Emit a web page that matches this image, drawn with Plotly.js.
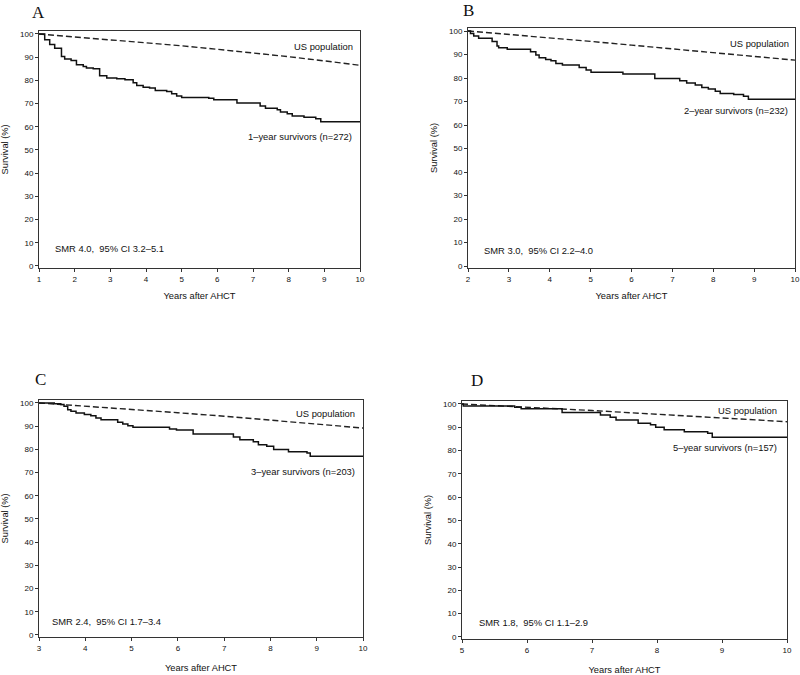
<!DOCTYPE html>
<html>
<head>
<meta charset="utf-8">
<script src="https://cdn.plot.ly/plotly-3.0.1.min.js"></script>
<style>html,body{margin:0;padding:0;background:#fff;}#chart{width:800px;height:675px;}</style>
</head>
<body>
<div id="chart"></div>
<script>
// Panel A: 1-year survivors
const kmTimeA = [1, 1.16, 1.3, 1.44, 1.63, 1.72, 1.9, 2.05, 2.24, 2.33, 2.52, 2.7, 2.9, 3.18, 3.41, 3.64, 3.74, 3.92, 4.1, 4.26, 4.58, 4.72, 4.86, 5.0, 5.76, 5.9, 6.55, 7.2, 7.35, 7.68, 7.77, 7.96, 8.1, 8.43, 8.76, 8.9, 10];
const kmSurvA = [100, 97.5, 95.5, 93.8, 90.3, 89.2, 88.6, 86.7, 86, 85.3, 85, 82, 81, 80.7, 80.3, 79, 77.8, 77, 76.7, 75.6, 75.2, 74.2, 73.3, 72.6, 72.3, 71.6, 70.2, 69, 68, 67.3, 66.4, 65.6, 64.7, 64.1, 63.5, 62.2, 62.2];
const usTimeA = [1, 2, 3, 4, 5, 6, 7, 8, 9, 10];
const usSurvA = [100, 98.8, 97.6, 96.3, 94.9, 93.4, 91.9, 90.2, 88.4, 86.5];

// Panel B: 2-year survivors
const kmTimeB = [2, 2.06, 2.14, 2.26, 2.59, 2.71, 2.75, 2.96, 3.53, 3.66, 3.74, 3.9, 4.03, 4.15, 4.31, 4.72, 4.89, 5.01, 5.79, 6.57, 7.18, 7.35, 7.56, 7.72, 7.88, 8.05, 8.17, 8.5, 8.74, 8.86, 10];
const kmSurvB = [100, 99, 97.9, 96.9, 95.5, 93.6, 92.9, 92.2, 91.2, 89.8, 88.6, 87.9, 87.4, 86.2, 85.5, 84.5, 83.4, 82.5, 81.7, 79.8, 78.8, 77.9, 77, 76, 75.3, 74.4, 73.4, 73, 72.3, 71, 71];
const usTimeB = [2, 3, 4, 5, 6, 7, 8, 9, 10];
const usSurvB = [100, 98.6, 97.1, 95.6, 94.0, 92.4, 90.8, 89.2, 87.6];

// Panel C: 3-year survivors
const kmTimeC = [3, 3.33, 3.47, 3.54, 3.62, 3.69, 3.8, 3.98, 4.12, 4.23, 4.34, 4.7, 4.81, 4.92, 5.03, 5.82, 5.97, 6.33, 7.2, 7.34, 7.63, 7.74, 7.92, 8.07, 8.39, 8.79, 8.86, 10];
const kmSurvC = [100, 99.7, 99.3, 98.6, 97.1, 96.4, 95.7, 95, 94.5, 93.5, 92.8, 91.7, 90.9, 90.2, 89.5, 88.8, 88.4, 86.6, 85.3, 84.2, 83.3, 82, 81.3, 79.9, 79, 78.4, 77, 77];
const usTimeC = [3, 4, 5, 6, 7, 8, 9, 10];
const usSurvC = [100, 98.7, 97.3, 95.8, 94.3, 92.7, 91.0, 89.2];

// Panel D: 5-year survivors
const kmTimeD = [5, 5.02, 5.81, 5.91, 6.54, 7.13, 7.28, 7.37, 7.71, 7.9, 7.98, 8.11, 8.42, 8.78, 8.85, 10];
const kmSurvD = [100, 99.1, 98.6, 98, 96.4, 95.3, 94.3, 93.1, 91.7, 91.1, 90, 88.9, 88.1, 87.4, 85.7, 85.7];
const usTimeD = [5, 6, 7, 8, 9, 10];
const usSurvD = [100, 98.7, 97.2, 95.6, 94.0, 92.4];

const panelLetters = ['A', 'B', 'C', 'D'];
const cohortLabels = ['1\u2013year survivors (n=272)', '2\u2013year survivors (n=232)', '3\u2013year survivors (n=203)', '5\u2013year survivors (n=157)'];
const smrLabels = ['SMR 4.0,\u00a0\u00a095% CI 3.2\u20135.1', 'SMR 3.0,\u00a0\u00a095% CI 2.2\u20134.0', 'SMR 2.4,\u00a0\u00a095% CI 1.7\u20133.4', 'SMR 1.8,\u00a0\u00a095% CI 1.1\u20132.9'];
const popLabel = 'US population';
const xStarts = [1, 2, 3, 5];

const kmT = [kmTimeA, kmTimeB, kmTimeC, kmTimeD];
const kmS = [kmSurvA, kmSurvB, kmSurvC, kmSurvD];
const usT = [usTimeA, usTimeB, usTimeC, usTimeD];
const usS = [usSurvA, usSurvB, usSurvC, usSurvD];

const W = 800, H = 675;
// pixel boxes [left, right, top, bottom]
const boxes = [[39, 360, 30.5, 268.3], [468, 795, 27.5, 268.4], [39, 363, 399.5, 637.3], [462, 787, 400.5, 639.3]];
const xTitleStandoff = [9, 9, 12, 12];
const letterPos = [[38, 12], [468, 10], [40, 379], [477, 380]];
const popPos = [[355, 47], [791, 43], [357, 413], [779, 410]];
const cohPos = [[354, 136], [790, 111], [357, 471], [779, 447]];
const smrPos = [[53, 249], [482, 250], [50, 621], [477, 622]];

const font = 'Liberation Sans, Arial, Helvetica, sans-serif';
const traces = [];
const layout = {
  width: W, height: H,
  margin: {l: 0, r: 0, t: 0, b: 0},
  paper_bgcolor: '#fff', plot_bgcolor: '#fff',
  showlegend: false,
  font: {family: font, color: '#111', size: 9},
  annotations: []
};

for (let i = 0; i < 4; i++) {
  const sfx = i === 0 ? '' : String(i + 1);
  const xa = 'x' + sfx, ya = 'y' + sfx;
  traces.push({x: usT[i], y: usS[i], xaxis: xa, yaxis: ya, mode: 'lines', line: {color: '#222', width: 1.4, dash: '6px,3px'}, hoverinfo: 'skip'});
  traces.push({x: kmT[i], y: kmS[i], xaxis: xa, yaxis: ya, mode: 'lines', line: {color: '#111', width: 1.5, shape: 'hv'}, hoverinfo: 'skip'});
  const b = boxes[i];
  layout['xaxis' + sfx] = {
    domain: [b[0] / W, b[1] / W], anchor: ya, range: [xStarts[i], 10],
    tick0: xStarts[i], dtick: 1, ticks: 'outside', ticklen: 3, tickwidth: 1, tickcolor: '#333',
    showline: true, linecolor: '#333', linewidth: 1, mirror: true, showgrid: false, zeroline: false,
    tickfont: {family: font, size: 8, color: '#111'},
    title: {text: 'Years after AHCT', font: {family: font, size: 9.3, color: '#111'}, standoff: xTitleStandoff[i]},
    automargin: false, fixedrange: true
  };
  layout['yaxis' + sfx] = {
    domain: [1 - b[3] / H, 1 - b[2] / H], anchor: xa, range: [-1, 101.5],
    tick0: 0, dtick: 10, ticks: 'outside', ticklen: 3, tickwidth: 1, tickcolor: '#333',
    showline: true, linecolor: '#333', linewidth: 1, mirror: true, showgrid: false, zeroline: false,
    tickfont: {family: font, size: 8, color: '#111'},
    title: {text: 'Survival (%)', font: {family: font, size: 9.3, color: '#111'}, standoff: 9},
    automargin: false, fixedrange: true
  };
  const ann = (txt, p, anchor, extra) => Object.assign({
    text: txt, xref: 'paper', yref: 'paper', x: p[0] / W, y: 1 - p[1] / H,
    xanchor: anchor, yanchor: 'middle', showarrow: false,
    font: {family: font, size: 9.4, color: '#111'}
  }, extra || {});
  layout.annotations.push(ann(panelLetters[i], letterPos[i], 'center', {font: {family: 'Liberation Serif, Times New Roman, serif', size: 17, color: '#111'}}));
  layout.annotations.push(ann(popLabel, popPos[i], 'right'));
  layout.annotations.push(ann(cohortLabels[i], cohPos[i], 'right'));
  layout.annotations.push(ann(smrLabels[i], smrPos[i], 'left'));
}

Plotly.newPlot('chart', traces, layout, {staticPlot: true, displayModeBar: false});
</script>
</body>
</html>
